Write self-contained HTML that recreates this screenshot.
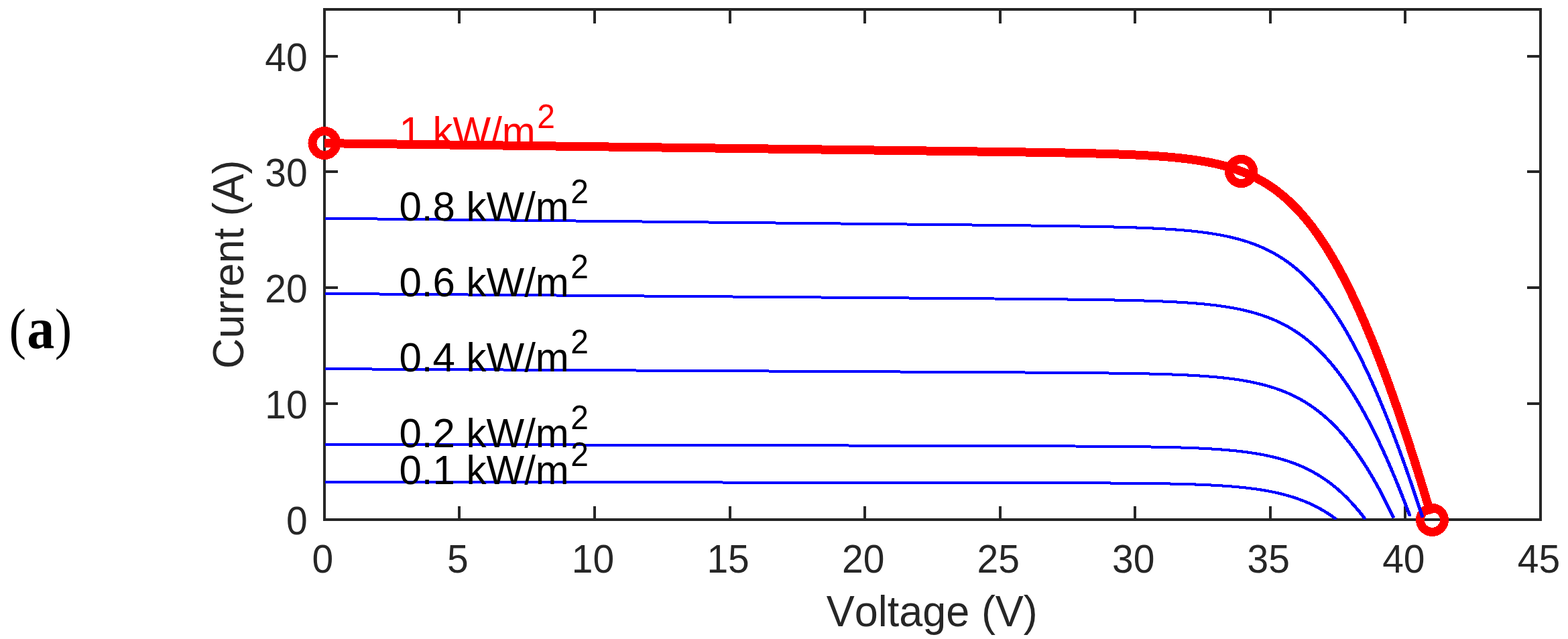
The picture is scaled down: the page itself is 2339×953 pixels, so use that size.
<!DOCTYPE html>
<html lang="en"><head><meta charset="utf-8"><title>I-V curves</title>
<style>html,body{margin:0;padding:0;background:#fff;}body{width:2339px;height:953px;overflow:hidden;}svg{display:block;}text{font-kerning:none;}.t{font-family:"Liberation Sans",sans-serif;fill:#262626;}.k{font-family:"Liberation Sans",sans-serif;fill:#000;}.s{font-family:"Liberation Serif","DejaVu Serif",serif;fill:#000;}</style></head><body>
<svg width="2339" height="953" viewBox="0 0 2339 953">
<rect x="0" y="0" width="2339" height="953" fill="#fff"/>
<defs><clipPath id="ax"><rect x="484" y="12" width="1816" height="763.5"/></clipPath><clipPath id="bx"><rect x="485" y="12" width="1815" height="763.5"/></clipPath></defs>
<g fill="#262626">
<rect x="482" y="12" width="1818" height="4"/>
<rect x="482" y="773" width="1818" height="4"/>
<rect x="482" y="12" width="4" height="765"/>
<rect x="2296" y="12" width="4" height="765"/>
<rect x="683" y="755" width="4" height="20"/>
<rect x="683" y="14" width="4" height="21"/>
<rect x="885" y="755" width="4" height="20"/>
<rect x="885" y="14" width="4" height="21"/>
<rect x="1087" y="755" width="4" height="20"/>
<rect x="1087" y="14" width="4" height="21"/>
<rect x="1288" y="755" width="4" height="20"/>
<rect x="1288" y="14" width="4" height="21"/>
<rect x="1490" y="755" width="4" height="20"/>
<rect x="1490" y="14" width="4" height="21"/>
<rect x="1691" y="755" width="4" height="20"/>
<rect x="1691" y="14" width="4" height="21"/>
<rect x="1893" y="755" width="4" height="20"/>
<rect x="1893" y="14" width="4" height="21"/>
<rect x="2094" y="755" width="4" height="20"/>
<rect x="2094" y="14" width="4" height="21"/>
<rect x="484" y="600" width="20" height="4"/>
<rect x="2278" y="600" width="20" height="4"/>
<rect x="484" y="427" width="20" height="4"/>
<rect x="2278" y="427" width="20" height="4"/>
<rect x="484" y="254" width="20" height="4"/>
<rect x="2278" y="254" width="20" height="4"/>
<rect x="484" y="82" width="20" height="4"/>
<rect x="2278" y="82" width="20" height="4"/>
</g>
<text class="k" style="fill:#f00" transform="translate(595.5 217.3) scale(1 1.03)" font-size="60">1 kW/m<tspan dx="2.5" dy="-25.534" font-size="48">2</tspan></text>
<g fill="none" shape-rendering="crispEdges" stroke-linejoin="round">
<path clip-path="url(#ax)" d="M484.00 213.64 L524.31 214.15 L564.62 214.66 L604.93 215.17 L645.24 215.68 L685.56 216.19 L725.87 216.70 L766.18 217.21 L806.49 217.72 L846.80 218.23 L887.11 218.74 L927.42 219.25 L967.73 219.76 L1008.04 220.27 L1048.36 220.77 L1088.67 221.28 L1128.98 221.79 L1169.29 222.30 L1209.60 222.81 L1249.91 223.32 L1290.22 223.83 L1330.53 224.35 L1370.84 224.86 L1411.16 225.38 L1451.47 225.91 L1491.78 226.46 L1532.09 227.04 L1542.17 227.20 L1544.69 227.24 L1547.22 227.28 L1549.75 227.32 L1552.28 227.36 L1554.81 227.40 L1557.33 227.44 L1559.86 227.48 L1562.39 227.52 L1564.92 227.57 L1567.45 227.61 L1569.97 227.65 L1572.50 227.70 L1575.03 227.74 L1577.56 227.79 L1580.08 227.83 L1582.61 227.88 L1585.14 227.92 L1587.67 227.97 L1590.20 228.02 L1592.72 228.07 L1595.25 228.12 L1597.78 228.17 L1600.31 228.22 L1602.84 228.27 L1605.36 228.32 L1607.89 228.37 L1610.42 228.43 L1612.95 228.48 L1615.47 228.54 L1618.00 228.59 L1620.53 228.65 L1623.06 228.71 L1625.59 228.77 L1628.11 228.83 L1630.64 228.89 L1633.17 228.95 L1635.70 229.02 L1638.23 229.08 L1640.75 229.15 L1643.28 229.22 L1645.81 229.29 L1648.34 229.36 L1650.87 229.44 L1653.39 229.51 L1655.92 229.59 L1658.45 229.67 L1660.98 229.75 L1663.50 229.83 L1666.03 229.92 L1668.56 230.00 L1671.09 230.09 L1673.62 230.18 L1676.14 230.28 L1678.67 230.37 L1681.20 230.47 L1683.73 230.57 L1686.26 230.68 L1688.78 230.79 L1691.31 230.90 L1693.84 231.01 L1696.37 231.13 L1698.89 231.25 L1701.42 231.38 L1703.95 231.51 L1706.48 231.64 L1709.01 231.77 L1711.53 231.92 L1714.06 232.06 L1716.59 232.21 L1719.12 232.37 L1721.65 232.52 L1724.17 232.69 L1726.70 232.86 L1729.23 233.04 L1731.76 233.22 L1734.28 233.41 L1736.81 233.60 L1739.34 233.80 L1741.87 234.01 L1744.40 234.22 L1746.92 234.45 L1749.45 234.67 L1751.98 234.91 L1754.51 235.16 L1757.04 235.41 L1759.56 235.68 L1762.09 235.95 L1764.62 236.23 L1767.15 236.52 L1769.68 236.83 L1772.20 237.14 L1774.73 237.46 L1777.26 237.80 L1779.79 238.15 L1782.31 238.51 L1784.84 238.88 L1787.37 239.27 L1789.90 239.67 L1792.43 240.09 L1794.95 240.52 L1797.48 240.97 L1800.01 241.43 L1802.54 241.91 L1805.07 242.40 L1807.59 242.92 L1810.12 243.45 L1812.65 244.00 L1815.18 244.58 L1817.70 245.17 L1820.23 245.78 L1822.76 246.42 L1825.29 247.08 L1827.82 247.76 L1830.34 248.47 L1832.87 249.20 L1835.40 249.96 L1837.93 250.75 L1840.46 251.56 L1842.98 252.40 L1845.51 253.28 L1848.04 254.18 L1850.57 255.11 L1853.09 256.08 L1855.62 257.08 L1858.15 258.12 L1860.68 259.19 L1863.21 260.29 L1865.73 261.44 L1868.26 262.62 L1870.79 263.85 L1873.32 265.11 L1875.85 266.42 L1878.37 267.77 L1880.90 269.17 L1883.43 270.61 L1885.96 272.10 L1888.48 273.63 L1891.01 275.22 L1893.54 276.86 L1896.07 278.55 L1898.60 280.29 L1901.12 282.08 L1903.65 283.93 L1906.18 285.84 L1908.71 287.80 L1911.24 289.83 L1913.76 291.91 L1916.29 294.06 L1918.82 296.27 L1921.35 298.54 L1923.88 300.88 L1926.40 303.28 L1928.93 305.75 L1931.46 308.29 L1933.99 310.90 L1936.51 313.57 L1939.04 316.32 L1941.57 319.14 L1944.10 322.04 L1946.63 325.01 L1949.15 328.05 L1951.68 331.17 L1954.21 334.37 L1956.74 337.64 L1959.27 341.00 L1961.79 344.43 L1964.32 347.94 L1966.85 351.53 L1969.38 355.20 L1971.90 358.96 L1974.43 362.80 L1976.96 366.71 L1979.49 370.72 L1982.02 374.80 L1984.54 378.97 L1987.07 383.22 L1989.60 387.56 L1992.13 391.98 L1994.66 396.48 L1997.18 401.07 L1999.71 405.75 L2002.24 410.51 L2004.77 415.35 L2007.29 420.28 L2009.82 425.29 L2012.35 430.39 L2014.88 435.57 L2017.41 440.84 L2019.93 446.18 L2022.46 451.62 L2024.99 457.13 L2027.52 462.73 L2030.05 468.41 L2032.57 474.17 L2035.10 480.02 L2037.63 485.94 L2040.16 491.95 L2042.69 498.03 L2045.21 504.20 L2047.74 510.44 L2050.27 516.76 L2052.80 523.16 L2055.32 529.64 L2057.85 536.19 L2060.38 542.82 L2062.91 549.53 L2065.44 556.31 L2067.96 563.16 L2070.49 570.09 L2073.02 577.08 L2075.55 584.15 L2078.08 591.30 L2080.60 598.51 L2083.13 605.79 L2085.66 613.14 L2088.19 620.56 L2090.71 628.04 L2093.24 635.59 L2095.77 643.21 L2098.30 650.89 L2100.83 658.64 L2103.35 666.45 L2105.88 674.32 L2108.41 682.26 L2110.94 690.26 L2113.47 698.31 L2115.99 706.43 L2118.52 714.61 L2121.05 722.84 L2123.58 731.13 L2126.10 739.48 L2128.63 747.88 L2131.16 756.34 L2133.69 764.86 L2134.13 766.36" stroke="#f00" stroke-width="13"/>
</g>
<g fill="none" stroke="#f00" stroke-width="13" shape-rendering="crispEdges">
<circle cx="484" cy="213.5" r="18"/>
<circle cx="1851.5" cy="255.5" r="18"/>
<circle cx="2136.5" cy="775.4" r="18"/>
</g>
<g fill="none" stroke="#00f" stroke-width="4" shape-rendering="crispEdges" stroke-linejoin="round" clip-path="url(#bx)">
<path d="M483.70 325.71 L524.01 326.12 L564.32 326.52 L604.63 326.93 L644.94 327.34 L685.26 327.75 L725.57 328.16 L765.88 328.56 L806.19 328.97 L846.50 329.38 L886.81 329.79 L927.12 330.20 L967.43 330.60 L1007.74 331.01 L1048.06 331.42 L1088.37 331.83 L1128.68 332.23 L1168.99 332.64 L1209.30 333.05 L1249.61 333.46 L1289.92 333.87 L1330.23 334.28 L1370.54 334.69 L1410.86 335.11 L1451.17 335.53 L1491.48 335.96 L1531.79 336.43 L1541.87 336.55 L1544.39 336.58 L1546.92 336.61 L1549.45 336.64 L1551.98 336.67 L1554.51 336.71 L1557.03 336.74 L1559.56 336.77 L1562.09 336.80 L1564.62 336.84 L1567.15 336.87 L1569.67 336.90 L1572.20 336.94 L1574.73 336.97 L1577.26 337.01 L1579.78 337.04 L1582.31 337.08 L1584.84 337.12 L1587.37 337.15 L1589.90 337.19 L1592.42 337.23 L1594.95 337.26 L1597.48 337.30 L1600.01 337.34 L1602.54 337.38 L1605.06 337.42 L1607.59 337.46 L1610.12 337.50 L1612.65 337.55 L1615.17 337.59 L1617.70 337.63 L1620.23 337.68 L1622.76 337.72 L1625.29 337.77 L1627.81 337.81 L1630.34 337.86 L1632.87 337.91 L1635.40 337.96 L1637.93 338.01 L1640.45 338.06 L1642.98 338.11 L1645.51 338.17 L1648.04 338.22 L1650.57 338.28 L1653.09 338.34 L1655.62 338.39 L1658.15 338.45 L1660.68 338.51 L1663.20 338.58 L1665.73 338.64 L1668.26 338.71 L1670.79 338.78 L1673.32 338.84 L1675.84 338.92 L1678.37 338.99 L1680.90 339.06 L1683.43 339.14 L1685.96 339.22 L1688.48 339.30 L1691.01 339.38 L1693.54 339.47 L1696.07 339.56 L1698.59 339.65 L1701.12 339.74 L1703.65 339.84 L1706.18 339.94 L1708.71 340.04 L1711.23 340.15 L1713.76 340.26 L1716.29 340.37 L1718.82 340.48 L1721.35 340.60 L1723.87 340.73 L1726.40 340.85 L1728.93 340.98 L1731.46 341.12 L1733.98 341.26 L1736.51 341.41 L1739.04 341.55 L1741.57 341.71 L1744.10 341.87 L1746.62 342.04 L1749.15 342.21 L1751.68 342.38 L1754.21 342.57 L1756.74 342.76 L1759.26 342.95 L1761.79 343.16 L1764.32 343.37 L1766.85 343.58 L1769.38 343.81 L1771.90 344.04 L1774.43 344.29 L1776.96 344.54 L1779.49 344.80 L1782.01 345.07 L1784.54 345.34 L1787.07 345.63 L1789.60 345.93 L1792.13 346.24 L1794.65 346.56 L1797.18 346.90 L1799.71 347.24 L1802.24 347.60 L1804.77 347.97 L1807.29 348.36 L1809.82 348.76 L1812.35 349.17 L1814.88 349.60 L1817.40 350.04 L1819.93 350.51 L1822.46 350.98 L1824.99 351.48 L1827.52 351.99 L1830.04 352.52 L1832.57 353.08 L1835.10 353.65 L1837.63 354.24 L1840.16 354.86 L1842.68 355.49 L1845.21 356.15 L1847.74 356.84 L1850.27 357.55 L1852.79 358.28 L1855.32 359.04 L1857.85 359.83 L1860.38 360.64 L1862.91 361.49 L1865.43 362.36 L1867.96 363.27 L1870.49 364.21 L1873.02 365.18 L1875.55 366.18 L1878.07 367.22 L1880.60 368.30 L1883.13 369.41 L1885.66 370.56 L1888.18 371.75 L1890.71 372.98 L1893.24 374.26 L1895.77 375.57 L1898.30 376.93 L1900.82 378.33 L1903.35 379.78 L1905.88 381.28 L1908.41 382.82 L1910.94 384.42 L1913.46 386.07 L1915.99 387.76 L1918.52 389.52 L1921.05 391.32 L1923.58 393.18 L1926.10 395.10 L1928.63 397.08 L1931.16 399.12 L1933.69 401.21 L1936.21 403.37 L1938.74 405.60 L1941.27 407.88 L1943.80 410.23 L1946.33 412.65 L1948.85 415.14 L1951.38 417.69 L1953.91 420.32 L1956.44 423.01 L1958.97 425.78 L1961.49 428.62 L1964.02 431.53 L1966.55 434.52 L1969.08 437.58 L1971.60 440.72 L1974.13 443.93 L1976.66 447.23 L1979.19 450.60 L1981.72 454.05 L1984.24 457.58 L1986.77 461.20 L1989.30 464.89 L1991.83 468.67 L1994.36 472.52 L1996.88 476.46 L1999.41 480.49 L2001.94 484.59 L2004.47 488.78 L2006.99 493.06 L2009.52 497.42 L2012.05 501.86 L2014.58 506.39 L2017.11 511.00 L2019.63 515.70 L2022.16 520.48 L2024.69 525.35 L2027.22 530.30 L2029.75 535.33 L2032.27 540.45 L2034.80 545.66 L2037.33 550.95 L2039.86 556.32 L2042.39 561.77 L2044.91 567.31 L2047.44 572.93 L2049.97 578.63 L2052.50 584.42 L2055.02 590.29 L2057.55 596.23 L2060.08 602.26 L2062.61 608.37 L2065.14 614.56 L2067.66 620.82 L2070.19 627.17 L2072.72 633.59 L2075.25 640.09 L2077.78 646.66 L2080.30 653.31 L2082.83 660.04 L2085.36 666.84 L2087.89 673.72 L2090.41 680.66 L2092.94 687.68 L2095.47 694.77 L2098.00 701.93 L2100.53 709.17 L2103.05 716.47 L2105.58 723.84 L2108.11 731.28 L2110.64 738.78 L2113.17 746.35 L2115.69 753.99 L2118.22 761.69 L2120.75 769.45 L2121.43 771.54"/>
<path d="M1575.73 336.97 L1578.26 337.01 L1580.78 337.04 L1583.31 337.08 L1585.84 337.12 L1588.37 337.15 L1590.90 337.19 L1593.42 337.23 L1595.95 337.26 L1598.48 337.30 L1601.01 337.34 L1603.54 337.38 L1606.06 337.42 L1608.59 337.46 L1611.12 337.50 L1613.65 337.55 L1616.17 337.59 L1618.70 337.63 L1621.23 337.68 L1623.76 337.72 L1626.29 337.77 L1628.81 337.81 L1631.34 337.86 L1633.87 337.91 L1636.40 337.96 L1638.93 338.01 L1641.45 338.06 L1643.98 338.11 L1646.51 338.17 L1649.04 338.22 L1651.57 338.28 L1654.09 338.34 L1656.62 338.39 L1659.15 338.45 L1661.68 338.51 L1664.20 338.58 L1666.73 338.64 L1669.26 338.71 L1671.79 338.78 L1674.32 338.84 L1676.84 338.92 L1679.37 338.99 L1681.90 339.06 L1684.43 339.14 L1686.96 339.22 L1689.48 339.30 L1692.01 339.38 L1694.54 339.47 L1697.07 339.56 L1699.59 339.65 L1702.12 339.74 L1704.65 339.84 L1707.18 339.94 L1709.71 340.04 L1712.23 340.15 L1714.76 340.26 L1717.29 340.37 L1719.82 340.48 L1722.35 340.60 L1724.87 340.73 L1727.40 340.85 L1729.93 340.98 L1732.46 341.12 L1734.98 341.26 L1737.51 341.41 L1740.04 341.55 L1742.57 341.71 L1745.10 341.87 L1747.62 342.04 L1750.15 342.21 L1752.68 342.38 L1755.21 342.57 L1757.74 342.76 L1760.26 342.95 L1762.79 343.16 L1765.32 343.37 L1767.85 343.58 L1770.38 343.81 L1772.90 344.04 L1775.43 344.29 L1777.96 344.54 L1780.49 344.80 L1783.01 345.07 L1785.54 345.34 L1788.07 345.63 L1790.60 345.93 L1793.13 346.24 L1795.65 346.56 L1798.18 346.90 L1800.71 347.24 L1803.24 347.60 L1805.77 347.97 L1808.29 348.36 L1810.82 348.76 L1813.35 349.17 L1815.88 349.60 L1818.40 350.04 L1820.93 350.51 L1823.46 350.98 L1825.99 351.48 L1828.52 351.99 L1831.04 352.52 L1833.57 353.08 L1836.10 353.65 L1838.63 354.24 L1841.16 354.86 L1843.68 355.49 L1846.21 356.15 L1848.74 356.84 L1851.27 357.55 L1853.79 358.28 L1856.32 359.04 L1858.85 359.83 L1861.38 360.64 L1863.91 361.49 L1866.43 362.36 L1868.96 363.27 L1871.49 364.21 L1874.02 365.18 L1876.55 366.18 L1879.07 367.22 L1881.60 368.30 L1884.13 369.41 L1886.66 370.56 L1889.18 371.75 L1891.71 372.98 L1894.24 374.26 L1896.77 375.57 L1899.30 376.93 L1901.82 378.33 L1904.35 379.78 L1906.88 381.28 L1909.41 382.82 L1911.94 384.42 L1914.46 386.07 L1916.99 387.76 L1919.52 389.52 L1922.05 391.32 L1924.58 393.18 L1927.10 395.10 L1929.63 397.08 L1932.16 399.12 L1934.69 401.21 L1937.21 403.37 L1939.74 405.60 L1942.27 407.88 L1944.80 410.23 L1947.33 412.65 L1949.85 415.14 L1952.38 417.69 L1954.91 420.32 L1957.44 423.01 L1959.97 425.78 L1962.49 428.62 L1965.02 431.53 L1967.55 434.52 L1970.08 437.58 L1972.60 440.72 L1975.13 443.93 L1977.66 447.23 L1980.19 450.60 L1982.72 454.05 L1985.24 457.58 L1987.77 461.20 L1990.30 464.89 L1992.83 468.67 L1995.36 472.52 L1997.88 476.46 L2000.41 480.49 L2002.94 484.59 L2005.47 488.78 L2007.99 493.06 L2010.52 497.42 L2013.05 501.86 L2015.58 506.39 L2018.11 511.00 L2020.63 515.70 L2023.16 520.48 L2025.69 525.35 L2028.22 530.30 L2030.75 535.33 L2033.27 540.45 L2035.80 545.66 L2038.33 550.95 L2040.86 556.32 L2043.39 561.77 L2045.91 567.31 L2048.44 572.93 L2050.97 578.63 L2053.50 584.42 L2056.02 590.29 L2058.55 596.23 L2061.08 602.26 L2063.61 608.37 L2066.14 614.56 L2068.66 620.82 L2071.19 627.17 L2073.72 633.59 L2076.25 640.09 L2078.78 646.66 L2081.30 653.31 L2083.83 660.04 L2086.36 666.84 L2088.89 673.72 L2091.41 680.66 L2093.94 687.68 L2096.47 694.77 L2099.00 701.93 L2101.53 709.17 L2104.05 716.47 L2106.58 723.84 L2109.11 731.28 L2111.64 738.78 L2114.17 746.35 L2116.69 753.99 L2119.22 761.69 L2121.75 769.45 L2122.43 771.54"/>
<path d="M483.70 437.88 L524.01 438.18 L564.32 438.49 L604.63 438.80 L644.94 439.10 L685.26 439.41 L725.57 439.71 L765.88 440.02 L806.19 440.33 L846.50 440.63 L886.81 440.94 L927.12 441.24 L967.43 441.55 L1007.74 441.86 L1048.06 442.16 L1088.37 442.47 L1128.68 442.78 L1168.99 443.08 L1209.30 443.39 L1249.61 443.69 L1289.92 444.00 L1330.23 444.31 L1370.54 444.62 L1410.86 444.93 L1451.17 445.25 L1491.48 445.57 L1531.79 445.92 L1541.87 446.01 L1544.39 446.03 L1546.92 446.06 L1549.45 446.08 L1551.98 446.10 L1554.51 446.13 L1557.03 446.15 L1559.56 446.18 L1562.09 446.20 L1564.62 446.22 L1567.15 446.25 L1569.67 446.27 L1572.20 446.30 L1574.73 446.33 L1577.26 446.35 L1579.78 446.38 L1582.31 446.40 L1584.84 446.43 L1587.37 446.46 L1589.90 446.49 L1592.42 446.51 L1594.95 446.54 L1597.48 446.57 L1600.01 446.60 L1602.54 446.63 L1605.06 446.66 L1607.59 446.69 L1610.12 446.72 L1612.65 446.75 L1615.17 446.78 L1617.70 446.82 L1620.23 446.85 L1622.76 446.88 L1625.29 446.92 L1627.81 446.95 L1630.34 446.99 L1632.87 447.02 L1635.40 447.06 L1637.93 447.10 L1640.45 447.13 L1642.98 447.17 L1645.51 447.21 L1648.04 447.25 L1650.57 447.29 L1653.09 447.34 L1655.62 447.38 L1658.15 447.42 L1660.68 447.47 L1663.20 447.52 L1665.73 447.56 L1668.26 447.61 L1670.79 447.66 L1673.32 447.71 L1675.84 447.77 L1678.37 447.82 L1680.90 447.87 L1683.43 447.93 L1685.96 447.99 L1688.48 448.05 L1691.01 448.11 L1693.54 448.17 L1696.07 448.24 L1698.59 448.31 L1701.12 448.38 L1703.65 448.45 L1706.18 448.52 L1708.71 448.60 L1711.23 448.67 L1713.76 448.75 L1716.29 448.84 L1718.82 448.92 L1721.35 449.01 L1723.87 449.10 L1726.40 449.19 L1728.93 449.29 L1731.46 449.39 L1733.98 449.49 L1736.51 449.60 L1739.04 449.71 L1741.57 449.83 L1744.10 449.94 L1746.62 450.07 L1749.15 450.19 L1751.68 450.32 L1754.21 450.46 L1756.74 450.60 L1759.26 450.74 L1761.79 450.89 L1764.32 451.05 L1766.85 451.21 L1769.38 451.37 L1771.90 451.55 L1774.43 451.73 L1776.96 451.91 L1779.49 452.10 L1782.01 452.30 L1784.54 452.51 L1787.07 452.72 L1789.60 452.94 L1792.13 453.17 L1794.65 453.41 L1797.18 453.66 L1799.71 453.91 L1802.24 454.18 L1804.77 454.45 L1807.29 454.74 L1809.82 455.04 L1812.35 455.34 L1814.88 455.66 L1817.40 455.99 L1819.93 456.33 L1822.46 456.69 L1824.99 457.06 L1827.52 457.44 L1830.04 457.84 L1832.57 458.25 L1835.10 458.68 L1837.63 459.12 L1840.16 459.58 L1842.68 460.06 L1845.21 460.55 L1847.74 461.06 L1850.27 461.60 L1852.79 462.15 L1855.32 462.72 L1857.85 463.31 L1860.38 463.93 L1862.91 464.56 L1865.43 465.22 L1867.96 465.91 L1870.49 466.62 L1873.02 467.36 L1875.55 468.12 L1878.07 468.91 L1880.60 469.73 L1883.13 470.57 L1885.66 471.45 L1888.18 472.36 L1890.71 473.30 L1893.24 474.28 L1895.77 475.29 L1898.30 476.33 L1900.82 477.41 L1903.35 478.53 L1905.88 479.69 L1908.41 480.88 L1910.94 482.12 L1913.46 483.40 L1915.99 484.72 L1918.52 486.08 L1921.05 487.50 L1923.58 488.95 L1926.10 490.46 L1928.63 492.01 L1931.16 493.62 L1933.69 495.28 L1936.21 496.98 L1938.74 498.75 L1941.27 500.56 L1943.80 502.44 L1946.33 504.37 L1948.85 506.36 L1951.38 508.41 L1953.91 510.52 L1956.44 512.69 L1958.97 514.93 L1961.49 517.23 L1964.02 519.60 L1966.55 522.03 L1969.08 524.53 L1971.60 527.10 L1974.13 529.74 L1976.66 532.45 L1979.19 535.24 L1981.72 538.09 L1984.24 541.02 L1986.77 544.03 L1989.30 547.11 L1991.83 550.27 L1994.36 553.50 L1996.88 556.82 L1999.41 560.21 L2001.94 563.68 L2004.47 567.23 L2006.99 570.87 L2009.52 574.58 L2012.05 578.38 L2014.58 582.26 L2017.11 586.22 L2019.63 590.26 L2022.16 594.39 L2024.69 598.61 L2027.22 602.90 L2029.75 607.28 L2032.27 611.75 L2034.80 616.30 L2037.33 620.93 L2039.86 625.65 L2042.39 630.46 L2044.91 635.35 L2047.44 640.32 L2049.97 645.38 L2052.50 650.52 L2055.02 655.75 L2057.55 661.06 L2060.08 666.46 L2062.61 671.94 L2065.14 677.50 L2067.66 683.14 L2070.19 688.87 L2072.72 694.67 L2075.25 700.56 L2077.78 706.53 L2080.30 712.58 L2082.83 718.71 L2085.36 724.92 L2087.89 731.21 L2090.41 737.58 L2092.94 744.02 L2095.47 750.54 L2098.00 757.14 L2100.53 763.81 L2102.78 769.82"/>
<path d="M1575.73 446.33 L1578.26 446.35 L1580.78 446.38 L1583.31 446.40 L1585.84 446.43 L1588.37 446.46 L1590.90 446.49 L1593.42 446.51 L1595.95 446.54 L1598.48 446.57 L1601.01 446.60 L1603.54 446.63 L1606.06 446.66 L1608.59 446.69 L1611.12 446.72 L1613.65 446.75 L1616.17 446.78 L1618.70 446.82 L1621.23 446.85 L1623.76 446.88 L1626.29 446.92 L1628.81 446.95 L1631.34 446.99 L1633.87 447.02 L1636.40 447.06 L1638.93 447.10 L1641.45 447.13 L1643.98 447.17 L1646.51 447.21 L1649.04 447.25 L1651.57 447.29 L1654.09 447.34 L1656.62 447.38 L1659.15 447.42 L1661.68 447.47 L1664.20 447.52 L1666.73 447.56 L1669.26 447.61 L1671.79 447.66 L1674.32 447.71 L1676.84 447.77 L1679.37 447.82 L1681.90 447.87 L1684.43 447.93 L1686.96 447.99 L1689.48 448.05 L1692.01 448.11 L1694.54 448.17 L1697.07 448.24 L1699.59 448.31 L1702.12 448.38 L1704.65 448.45 L1707.18 448.52 L1709.71 448.60 L1712.23 448.67 L1714.76 448.75 L1717.29 448.84 L1719.82 448.92 L1722.35 449.01 L1724.87 449.10 L1727.40 449.19 L1729.93 449.29 L1732.46 449.39 L1734.98 449.49 L1737.51 449.60 L1740.04 449.71 L1742.57 449.83 L1745.10 449.94 L1747.62 450.07 L1750.15 450.19 L1752.68 450.32 L1755.21 450.46 L1757.74 450.60 L1760.26 450.74 L1762.79 450.89 L1765.32 451.05 L1767.85 451.21 L1770.38 451.37 L1772.90 451.55 L1775.43 451.73 L1777.96 451.91 L1780.49 452.10 L1783.01 452.30 L1785.54 452.51 L1788.07 452.72 L1790.60 452.94 L1793.13 453.17 L1795.65 453.41 L1798.18 453.66 L1800.71 453.91 L1803.24 454.18 L1805.77 454.45 L1808.29 454.74 L1810.82 455.04 L1813.35 455.34 L1815.88 455.66 L1818.40 455.99 L1820.93 456.33 L1823.46 456.69 L1825.99 457.06 L1828.52 457.44 L1831.04 457.84 L1833.57 458.25 L1836.10 458.68 L1838.63 459.12 L1841.16 459.58 L1843.68 460.06 L1846.21 460.55 L1848.74 461.06 L1851.27 461.60 L1853.79 462.15 L1856.32 462.72 L1858.85 463.31 L1861.38 463.93 L1863.91 464.56 L1866.43 465.22 L1868.96 465.91 L1871.49 466.62 L1874.02 467.36 L1876.55 468.12 L1879.07 468.91 L1881.60 469.73 L1884.13 470.57 L1886.66 471.45 L1889.18 472.36 L1891.71 473.30 L1894.24 474.28 L1896.77 475.29 L1899.30 476.33 L1901.82 477.41 L1904.35 478.53 L1906.88 479.69 L1909.41 480.88 L1911.94 482.12 L1914.46 483.40 L1916.99 484.72 L1919.52 486.08 L1922.05 487.50 L1924.58 488.95 L1927.10 490.46 L1929.63 492.01 L1932.16 493.62 L1934.69 495.28 L1937.21 496.98 L1939.74 498.75 L1942.27 500.56 L1944.80 502.44 L1947.33 504.37 L1949.85 506.36 L1952.38 508.41 L1954.91 510.52 L1957.44 512.69 L1959.97 514.93 L1962.49 517.23 L1965.02 519.60 L1967.55 522.03 L1970.08 524.53 L1972.60 527.10 L1975.13 529.74 L1977.66 532.45 L1980.19 535.24 L1982.72 538.09 L1985.24 541.02 L1987.77 544.03 L1990.30 547.11 L1992.83 550.27 L1995.36 553.50 L1997.88 556.82 L2000.41 560.21 L2002.94 563.68 L2005.47 567.23 L2007.99 570.87 L2010.52 574.58 L2013.05 578.38 L2015.58 582.26 L2018.11 586.22 L2020.63 590.26 L2023.16 594.39 L2025.69 598.61 L2028.22 602.90 L2030.75 607.28 L2033.27 611.75 L2035.80 616.30 L2038.33 620.93 L2040.86 625.65 L2043.39 630.46 L2045.91 635.35 L2048.44 640.32 L2050.97 645.38 L2053.50 650.52 L2056.02 655.75 L2058.55 661.06 L2061.08 666.46 L2063.61 671.94 L2066.14 677.50 L2068.66 683.14 L2071.19 688.87 L2073.72 694.67 L2076.25 700.56 L2078.78 706.53 L2081.30 712.58 L2083.83 718.71 L2086.36 724.92 L2088.89 731.21 L2091.41 737.58 L2093.94 744.02 L2096.47 750.54 L2099.00 757.14 L2101.53 763.81 L2103.78 769.82"/>
<path d="M483.70 550.15 L524.01 550.35 L564.32 550.56 L604.63 550.76 L644.94 550.97 L685.26 551.17 L725.57 551.38 L765.88 551.58 L806.19 551.78 L846.50 551.99 L886.81 552.19 L927.12 552.40 L967.43 552.60 L1007.74 552.80 L1048.06 553.01 L1088.37 553.21 L1128.68 553.42 L1168.99 553.62 L1209.30 553.82 L1249.61 554.03 L1289.92 554.23 L1330.23 554.44 L1370.54 554.65 L1410.86 554.85 L1451.17 555.07 L1491.48 555.28 L1531.79 555.52 L1541.87 555.58 L1544.39 555.59 L1546.92 555.61 L1549.45 555.63 L1551.98 555.64 L1554.51 555.66 L1557.03 555.68 L1559.56 555.69 L1562.09 555.71 L1564.62 555.73 L1567.15 555.74 L1569.67 555.76 L1572.20 555.78 L1574.73 555.79 L1577.26 555.81 L1579.78 555.83 L1582.31 555.85 L1584.84 555.87 L1587.37 555.89 L1589.90 555.90 L1592.42 555.92 L1594.95 555.94 L1597.48 555.96 L1600.01 555.98 L1602.54 556.00 L1605.06 556.02 L1607.59 556.04 L1610.12 556.07 L1612.65 556.09 L1615.17 556.11 L1617.70 556.13 L1620.23 556.15 L1622.76 556.18 L1625.29 556.20 L1627.81 556.23 L1630.34 556.25 L1632.87 556.28 L1635.40 556.30 L1637.93 556.33 L1640.45 556.35 L1642.98 556.38 L1645.51 556.41 L1648.04 556.44 L1650.57 556.47 L1653.09 556.50 L1655.62 556.53 L1658.15 556.56 L1660.68 556.59 L1663.20 556.62 L1665.73 556.65 L1668.26 556.69 L1670.79 556.72 L1673.32 556.76 L1675.84 556.80 L1678.37 556.84 L1680.90 556.88 L1683.43 556.92 L1685.96 556.96 L1688.48 557.00 L1691.01 557.04 L1693.54 557.09 L1696.07 557.13 L1698.59 557.18 L1701.12 557.23 L1703.65 557.28 L1706.18 557.33 L1708.71 557.39 L1711.23 557.44 L1713.76 557.50 L1716.29 557.56 L1718.82 557.62 L1721.35 557.69 L1723.87 557.75 L1726.40 557.82 L1728.93 557.89 L1731.46 557.96 L1733.98 558.03 L1736.51 558.11 L1739.04 558.19 L1741.57 558.27 L1744.10 558.36 L1746.62 558.45 L1749.15 558.54 L1751.68 558.63 L1754.21 558.73 L1756.74 558.83 L1759.26 558.94 L1761.79 559.05 L1764.32 559.16 L1766.85 559.27 L1769.38 559.40 L1771.90 559.52 L1774.43 559.65 L1776.96 559.79 L1779.49 559.93 L1782.01 560.07 L1784.54 560.22 L1787.07 560.38 L1789.60 560.54 L1792.13 560.71 L1794.65 560.88 L1797.18 561.06 L1799.71 561.25 L1802.24 561.44 L1804.77 561.65 L1807.29 561.85 L1809.82 562.07 L1812.35 562.30 L1814.88 562.53 L1817.40 562.77 L1819.93 563.03 L1822.46 563.29 L1824.99 563.56 L1827.52 563.84 L1830.04 564.14 L1832.57 564.44 L1835.10 564.76 L1837.63 565.08 L1840.16 565.42 L1842.68 565.78 L1845.21 566.14 L1847.74 566.52 L1850.27 566.92 L1852.79 567.33 L1855.32 567.75 L1857.85 568.20 L1860.38 568.65 L1862.91 569.13 L1865.43 569.62 L1867.96 570.13 L1870.49 570.67 L1873.02 571.22 L1875.55 571.79 L1878.07 572.38 L1880.60 573.00 L1883.13 573.63 L1885.66 574.30 L1888.18 574.98 L1890.71 575.69 L1893.24 576.43 L1895.77 577.19 L1898.30 577.99 L1900.82 578.81 L1903.35 579.66 L1905.88 580.54 L1908.41 581.45 L1910.94 582.40 L1913.46 583.37 L1915.99 584.39 L1918.52 585.44 L1921.05 586.52 L1923.58 587.65 L1926.10 588.81 L1928.63 590.01 L1931.16 591.25 L1933.69 592.54 L1936.21 593.87 L1938.74 595.24 L1941.27 596.66 L1943.80 598.13 L1946.33 599.64 L1948.85 601.21 L1951.38 602.82 L1953.91 604.49 L1956.44 606.21 L1958.97 607.98 L1961.49 609.81 L1964.02 611.69 L1966.55 613.64 L1969.08 615.64 L1971.60 617.70 L1974.13 619.83 L1976.66 622.01 L1979.19 624.26 L1981.72 626.58 L1984.24 628.96 L1986.77 631.41 L1989.30 633.93 L1991.83 636.51 L1994.36 639.17 L1996.88 641.90 L1999.41 644.70 L2001.94 647.57 L2004.47 650.52 L2006.99 653.54 L2009.52 656.64 L2012.05 659.82 L2014.58 663.08 L2017.11 666.41 L2019.63 669.82 L2022.16 673.31 L2024.69 676.89 L2027.22 680.54 L2029.75 684.28 L2032.27 688.09 L2034.80 691.99 L2037.33 695.98 L2039.86 700.05 L2042.39 704.20 L2044.91 708.43 L2047.44 712.75 L2049.97 717.15 L2052.50 721.64 L2055.02 726.22 L2057.55 730.87 L2060.08 735.62 L2062.61 740.44 L2065.14 745.36 L2067.66 750.35 L2070.19 755.44 L2072.72 760.60 L2075.25 765.85 L2077.78 771.19 L2078.35 772.41"/>
<path d="M1575.73 555.79 L1578.26 555.81 L1580.78 555.83 L1583.31 555.85 L1585.84 555.87 L1588.37 555.89 L1590.90 555.90 L1593.42 555.92 L1595.95 555.94 L1598.48 555.96 L1601.01 555.98 L1603.54 556.00 L1606.06 556.02 L1608.59 556.04 L1611.12 556.07 L1613.65 556.09 L1616.17 556.11 L1618.70 556.13 L1621.23 556.15 L1623.76 556.18 L1626.29 556.20 L1628.81 556.23 L1631.34 556.25 L1633.87 556.28 L1636.40 556.30 L1638.93 556.33 L1641.45 556.35 L1643.98 556.38 L1646.51 556.41 L1649.04 556.44 L1651.57 556.47 L1654.09 556.50 L1656.62 556.53 L1659.15 556.56 L1661.68 556.59 L1664.20 556.62 L1666.73 556.65 L1669.26 556.69 L1671.79 556.72 L1674.32 556.76 L1676.84 556.80 L1679.37 556.84 L1681.90 556.88 L1684.43 556.92 L1686.96 556.96 L1689.48 557.00 L1692.01 557.04 L1694.54 557.09 L1697.07 557.13 L1699.59 557.18 L1702.12 557.23 L1704.65 557.28 L1707.18 557.33 L1709.71 557.39 L1712.23 557.44 L1714.76 557.50 L1717.29 557.56 L1719.82 557.62 L1722.35 557.69 L1724.87 557.75 L1727.40 557.82 L1729.93 557.89 L1732.46 557.96 L1734.98 558.03 L1737.51 558.11 L1740.04 558.19 L1742.57 558.27 L1745.10 558.36 L1747.62 558.45 L1750.15 558.54 L1752.68 558.63 L1755.21 558.73 L1757.74 558.83 L1760.26 558.94 L1762.79 559.05 L1765.32 559.16 L1767.85 559.27 L1770.38 559.40 L1772.90 559.52 L1775.43 559.65 L1777.96 559.79 L1780.49 559.93 L1783.01 560.07 L1785.54 560.22 L1788.07 560.38 L1790.60 560.54 L1793.13 560.71 L1795.65 560.88 L1798.18 561.06 L1800.71 561.25 L1803.24 561.44 L1805.77 561.65 L1808.29 561.85 L1810.82 562.07 L1813.35 562.30 L1815.88 562.53 L1818.40 562.77 L1820.93 563.03 L1823.46 563.29 L1825.99 563.56 L1828.52 563.84 L1831.04 564.14 L1833.57 564.44 L1836.10 564.76 L1838.63 565.08 L1841.16 565.42 L1843.68 565.78 L1846.21 566.14 L1848.74 566.52 L1851.27 566.92 L1853.79 567.33 L1856.32 567.75 L1858.85 568.20 L1861.38 568.65 L1863.91 569.13 L1866.43 569.62 L1868.96 570.13 L1871.49 570.67 L1874.02 571.22 L1876.55 571.79 L1879.07 572.38 L1881.60 573.00 L1884.13 573.63 L1886.66 574.30 L1889.18 574.98 L1891.71 575.69 L1894.24 576.43 L1896.77 577.19 L1899.30 577.99 L1901.82 578.81 L1904.35 579.66 L1906.88 580.54 L1909.41 581.45 L1911.94 582.40 L1914.46 583.37 L1916.99 584.39 L1919.52 585.44 L1922.05 586.52 L1924.58 587.65 L1927.10 588.81 L1929.63 590.01 L1932.16 591.25 L1934.69 592.54 L1937.21 593.87 L1939.74 595.24 L1942.27 596.66 L1944.80 598.13 L1947.33 599.64 L1949.85 601.21 L1952.38 602.82 L1954.91 604.49 L1957.44 606.21 L1959.97 607.98 L1962.49 609.81 L1965.02 611.69 L1967.55 613.64 L1970.08 615.64 L1972.60 617.70 L1975.13 619.83 L1977.66 622.01 L1980.19 624.26 L1982.72 626.58 L1985.24 628.96 L1987.77 631.41 L1990.30 633.93 L1992.83 636.51 L1995.36 639.17 L1997.88 641.90 L2000.41 644.70 L2002.94 647.57 L2005.47 650.52 L2007.99 653.54 L2010.52 656.64 L2013.05 659.82 L2015.58 663.08 L2018.11 666.41 L2020.63 669.82 L2023.16 673.31 L2025.69 676.89 L2028.22 680.54 L2030.75 684.28 L2033.27 688.09 L2035.80 691.99 L2038.33 695.98 L2040.86 700.05 L2043.39 704.20 L2045.91 708.43 L2048.44 712.75 L2050.97 717.15 L2053.50 721.64 L2056.02 726.22 L2058.55 730.87 L2061.08 735.62 L2063.61 740.44 L2066.14 745.36 L2068.66 750.35 L2071.19 755.44 L2073.72 760.60 L2076.25 765.85 L2078.78 771.19 L2079.35 772.41"/>
<path d="M483.70 662.52 L524.01 662.63 L564.32 662.73 L604.63 662.83 L644.94 662.93 L685.26 663.03 L725.57 663.14 L765.88 663.24 L806.19 663.34 L846.50 663.44 L886.81 663.55 L927.12 663.65 L967.43 663.75 L1007.74 663.85 L1048.06 663.95 L1088.37 664.06 L1128.68 664.16 L1168.99 664.26 L1209.30 664.36 L1249.61 664.46 L1289.92 664.57 L1330.23 664.67 L1370.54 664.77 L1410.86 664.88 L1451.17 664.99 L1491.48 665.10 L1531.79 665.22 L1541.87 665.26 L1544.39 665.26 L1546.92 665.27 L1549.45 665.28 L1551.98 665.29 L1554.51 665.30 L1557.03 665.31 L1559.56 665.32 L1562.09 665.33 L1564.62 665.34 L1567.15 665.35 L1569.67 665.36 L1572.20 665.37 L1574.73 665.38 L1577.26 665.39 L1579.78 665.40 L1582.31 665.41 L1584.84 665.42 L1587.37 665.43 L1589.90 665.44 L1592.42 665.45 L1594.95 665.46 L1597.48 665.47 L1600.01 665.48 L1602.54 665.50 L1605.06 665.51 L1607.59 665.52 L1610.12 665.53 L1612.65 665.54 L1615.17 665.56 L1617.70 665.57 L1620.23 665.59 L1622.76 665.60 L1625.29 665.61 L1627.81 665.63 L1630.34 665.64 L1632.87 665.66 L1635.40 665.67 L1637.93 665.69 L1640.45 665.71 L1642.98 665.72 L1645.51 665.74 L1648.04 665.76 L1650.57 665.78 L1653.09 665.80 L1655.62 665.81 L1658.15 665.83 L1660.68 665.85 L1663.20 665.88 L1665.73 665.90 L1668.26 665.92 L1670.79 665.94 L1673.32 665.97 L1675.84 665.99 L1678.37 666.01 L1680.90 666.04 L1683.43 666.07 L1685.96 666.09 L1688.48 666.12 L1691.01 666.15 L1693.54 666.18 L1696.07 666.21 L1698.59 666.24 L1701.12 666.28 L1703.65 666.31 L1706.18 666.35 L1708.71 666.38 L1711.23 666.42 L1713.76 666.46 L1716.29 666.50 L1718.82 666.54 L1721.35 666.59 L1723.87 666.63 L1726.40 666.68 L1728.93 666.72 L1731.46 666.77 L1733.98 666.83 L1736.51 666.88 L1739.04 666.93 L1741.57 666.99 L1744.10 667.05 L1746.62 667.11 L1749.15 667.18 L1751.68 667.24 L1754.21 667.31 L1756.74 667.38 L1759.26 667.46 L1761.79 667.53 L1764.32 667.61 L1766.85 667.70 L1769.38 667.78 L1771.90 667.87 L1774.43 667.96 L1776.96 668.06 L1779.49 668.16 L1782.01 668.26 L1784.54 668.37 L1787.07 668.48 L1789.60 668.60 L1792.13 668.72 L1794.65 668.84 L1797.18 668.97 L1799.71 669.11 L1802.24 669.25 L1804.77 669.39 L1807.29 669.54 L1809.82 669.70 L1812.35 669.86 L1814.88 670.03 L1817.40 670.21 L1819.93 670.39 L1822.46 670.58 L1824.99 670.78 L1827.52 670.99 L1830.04 671.20 L1832.57 671.42 L1835.10 671.65 L1837.63 671.89 L1840.16 672.14 L1842.68 672.40 L1845.21 672.67 L1847.74 672.94 L1850.27 673.23 L1852.79 673.54 L1855.32 673.85 L1857.85 674.17 L1860.38 674.51 L1862.91 674.86 L1865.43 675.23 L1867.96 675.60 L1870.49 676.00 L1873.02 676.40 L1875.55 676.83 L1878.07 677.27 L1880.60 677.72 L1883.13 678.20 L1885.66 678.69 L1888.18 679.20 L1890.71 679.73 L1893.24 680.28 L1895.77 680.86 L1898.30 681.45 L1900.82 682.06 L1903.35 682.70 L1905.88 683.36 L1908.41 684.05 L1910.94 684.76 L1913.46 685.50 L1915.99 686.27 L1918.52 687.06 L1921.05 687.89 L1923.58 688.74 L1926.10 689.62 L1928.63 690.54 L1931.16 691.49 L1933.69 692.47 L1936.21 693.49 L1938.74 694.54 L1941.27 695.63 L1943.80 696.76 L1946.33 697.93 L1948.85 699.14 L1951.38 700.39 L1953.91 701.68 L1956.44 703.02 L1958.97 704.40 L1961.49 705.83 L1964.02 707.30 L1966.55 708.83 L1969.08 710.40 L1971.60 712.02 L1974.13 713.70 L1976.66 715.43 L1979.19 717.21 L1981.72 719.05 L1984.24 720.95 L1986.77 722.91 L1989.30 724.92 L1991.83 727.00 L1994.36 729.13 L1996.88 731.34 L1999.41 733.60 L2001.94 735.93 L2004.47 738.33 L2006.99 740.79 L2009.52 743.32 L2012.05 745.93 L2014.58 748.60 L2017.11 751.35 L2019.63 754.16 L2022.16 757.06 L2024.69 760.02 L2027.22 763.07 L2029.75 766.18 L2032.27 769.38 L2034.80 772.65 L2035.93 774.14"/>
<path d="M1575.73 665.38 L1578.26 665.39 L1580.78 665.40 L1583.31 665.41 L1585.84 665.42 L1588.37 665.43 L1590.90 665.44 L1593.42 665.45 L1595.95 665.46 L1598.48 665.47 L1601.01 665.48 L1603.54 665.50 L1606.06 665.51 L1608.59 665.52 L1611.12 665.53 L1613.65 665.54 L1616.17 665.56 L1618.70 665.57 L1621.23 665.59 L1623.76 665.60 L1626.29 665.61 L1628.81 665.63 L1631.34 665.64 L1633.87 665.66 L1636.40 665.67 L1638.93 665.69 L1641.45 665.71 L1643.98 665.72 L1646.51 665.74 L1649.04 665.76 L1651.57 665.78 L1654.09 665.80 L1656.62 665.81 L1659.15 665.83 L1661.68 665.85 L1664.20 665.88 L1666.73 665.90 L1669.26 665.92 L1671.79 665.94 L1674.32 665.97 L1676.84 665.99 L1679.37 666.01 L1681.90 666.04 L1684.43 666.07 L1686.96 666.09 L1689.48 666.12 L1692.01 666.15 L1694.54 666.18 L1697.07 666.21 L1699.59 666.24 L1702.12 666.28 L1704.65 666.31 L1707.18 666.35 L1709.71 666.38 L1712.23 666.42 L1714.76 666.46 L1717.29 666.50 L1719.82 666.54 L1722.35 666.59 L1724.87 666.63 L1727.40 666.68 L1729.93 666.72 L1732.46 666.77 L1734.98 666.83 L1737.51 666.88 L1740.04 666.93 L1742.57 666.99 L1745.10 667.05 L1747.62 667.11 L1750.15 667.18 L1752.68 667.24 L1755.21 667.31 L1757.74 667.38 L1760.26 667.46 L1762.79 667.53 L1765.32 667.61 L1767.85 667.70 L1770.38 667.78 L1772.90 667.87 L1775.43 667.96 L1777.96 668.06 L1780.49 668.16 L1783.01 668.26 L1785.54 668.37 L1788.07 668.48 L1790.60 668.60 L1793.13 668.72 L1795.65 668.84 L1798.18 668.97 L1800.71 669.11 L1803.24 669.25 L1805.77 669.39 L1808.29 669.54 L1810.82 669.70 L1813.35 669.86 L1815.88 670.03 L1818.40 670.21 L1820.93 670.39 L1823.46 670.58 L1825.99 670.78 L1828.52 670.99 L1831.04 671.20 L1833.57 671.42 L1836.10 671.65 L1838.63 671.89 L1841.16 672.14 L1843.68 672.40 L1846.21 672.67 L1848.74 672.94 L1851.27 673.23 L1853.79 673.54 L1856.32 673.85 L1858.85 674.17 L1861.38 674.51 L1863.91 674.86 L1866.43 675.23 L1868.96 675.60 L1871.49 676.00 L1874.02 676.40 L1876.55 676.83 L1879.07 677.27 L1881.60 677.72 L1884.13 678.20 L1886.66 678.69 L1889.18 679.20 L1891.71 679.73 L1894.24 680.28 L1896.77 680.86 L1899.30 681.45 L1901.82 682.06 L1904.35 682.70 L1906.88 683.36 L1909.41 684.05 L1911.94 684.76 L1914.46 685.50 L1916.99 686.27 L1919.52 687.06 L1922.05 687.89 L1924.58 688.74 L1927.10 689.62 L1929.63 690.54 L1932.16 691.49 L1934.69 692.47 L1937.21 693.49 L1939.74 694.54 L1942.27 695.63 L1944.80 696.76 L1947.33 697.93 L1949.85 699.14 L1952.38 700.39 L1954.91 701.68 L1957.44 703.02 L1959.97 704.40 L1962.49 705.83 L1965.02 707.30 L1967.55 708.83 L1970.08 710.40 L1972.60 712.02 L1975.13 713.70 L1977.66 715.43 L1980.19 717.21 L1982.72 719.05 L1985.24 720.95 L1987.77 722.91 L1990.30 724.92 L1992.83 727.00 L1995.36 729.13 L1997.88 731.34 L2000.41 733.60 L2002.94 735.93 L2005.47 738.33 L2007.99 740.79 L2010.52 743.32 L2013.05 745.93 L2015.58 748.60 L2018.11 751.35 L2020.63 754.16 L2023.16 757.06 L2025.69 760.02 L2028.22 763.07 L2030.75 766.18 L2033.27 769.38 L2035.80 772.65 L2036.93 774.14"/>
<path d="M483.70 718.75 L524.01 718.80 L564.32 718.85 L604.63 718.90 L644.94 718.95 L685.26 719.00 L725.57 719.06 L765.88 719.11 L806.19 719.16 L846.50 719.21 L886.81 719.26 L927.12 719.31 L967.43 719.36 L1007.74 719.41 L1048.06 719.46 L1088.37 719.52 L1128.68 719.57 L1168.99 719.62 L1209.30 719.67 L1249.61 719.72 L1289.92 719.77 L1330.23 719.82 L1370.54 719.88 L1410.86 719.93 L1451.17 719.99 L1491.48 720.05 L1531.79 720.11 L1541.87 720.13 L1544.39 720.14 L1546.92 720.14 L1549.45 720.15 L1551.98 720.15 L1554.51 720.16 L1557.03 720.17 L1559.56 720.17 L1562.09 720.18 L1564.62 720.18 L1567.15 720.19 L1569.67 720.19 L1572.20 720.20 L1574.73 720.21 L1577.26 720.21 L1579.78 720.22 L1582.31 720.23 L1584.84 720.23 L1587.37 720.24 L1589.90 720.25 L1592.42 720.25 L1594.95 720.26 L1597.48 720.27 L1600.01 720.28 L1602.54 720.28 L1605.06 720.29 L1607.59 720.30 L1610.12 720.31 L1612.65 720.32 L1615.17 720.33 L1617.70 720.34 L1620.23 720.34 L1622.76 720.35 L1625.29 720.36 L1627.81 720.37 L1630.34 720.39 L1632.87 720.40 L1635.40 720.41 L1637.93 720.42 L1640.45 720.43 L1642.98 720.44 L1645.51 720.45 L1648.04 720.47 L1650.57 720.48 L1653.09 720.49 L1655.62 720.51 L1658.15 720.52 L1660.68 720.54 L1663.20 720.55 L1665.73 720.57 L1668.26 720.59 L1670.79 720.60 L1673.32 720.62 L1675.84 720.64 L1678.37 720.66 L1680.90 720.68 L1683.43 720.70 L1685.96 720.72 L1688.48 720.74 L1691.01 720.77 L1693.54 720.79 L1696.07 720.81 L1698.59 720.84 L1701.12 720.86 L1703.65 720.89 L1706.18 720.92 L1708.71 720.95 L1711.23 720.98 L1713.76 721.01 L1716.29 721.04 L1718.82 721.07 L1721.35 721.11 L1723.87 721.15 L1726.40 721.18 L1728.93 721.22 L1731.46 721.26 L1733.98 721.30 L1736.51 721.35 L1739.04 721.39 L1741.57 721.44 L1744.10 721.49 L1746.62 721.54 L1749.15 721.59 L1751.68 721.64 L1754.21 721.70 L1756.74 721.76 L1759.26 721.82 L1761.79 721.88 L1764.32 721.95 L1766.85 722.02 L1769.38 722.09 L1771.90 722.16 L1774.43 722.24 L1776.96 722.32 L1779.49 722.40 L1782.01 722.49 L1784.54 722.58 L1787.07 722.67 L1789.60 722.77 L1792.13 722.87 L1794.65 722.97 L1797.18 723.08 L1799.71 723.20 L1802.24 723.31 L1804.77 723.44 L1807.29 723.56 L1809.82 723.70 L1812.35 723.83 L1814.88 723.98 L1817.40 724.13 L1819.93 724.28 L1822.46 724.44 L1824.99 724.61 L1827.52 724.78 L1830.04 724.96 L1832.57 725.15 L1835.10 725.35 L1837.63 725.55 L1840.16 725.76 L1842.68 725.98 L1845.21 726.21 L1847.74 726.45 L1850.27 726.69 L1852.79 726.95 L1855.32 727.22 L1857.85 727.49 L1860.38 727.78 L1862.91 728.08 L1865.43 728.39 L1867.96 728.72 L1870.49 729.05 L1873.02 729.40 L1875.55 729.77 L1878.07 730.14 L1880.60 730.53 L1883.13 730.94 L1885.66 731.36 L1888.18 731.80 L1890.71 732.26 L1893.24 732.73 L1895.77 733.23 L1898.30 733.74 L1900.82 734.27 L1903.35 734.82 L1905.88 735.39 L1908.41 735.98 L1910.94 736.60 L1913.46 737.24 L1915.99 737.90 L1918.52 738.59 L1921.05 739.30 L1923.58 740.04 L1926.10 740.81 L1928.63 741.60 L1931.16 742.43 L1933.69 743.28 L1936.21 744.17 L1938.74 745.08 L1941.27 746.04 L1943.80 747.02 L1946.33 748.04 L1948.85 749.10 L1951.38 750.19 L1953.91 751.32 L1956.44 752.49 L1958.97 753.70 L1961.49 754.96 L1964.02 756.25 L1966.55 757.59 L1969.08 758.98 L1971.60 760.41 L1974.13 761.89 L1976.66 763.42 L1979.19 765.00 L1981.72 766.62 L1984.24 768.31 L1986.77 770.04 L1989.30 771.83 L1991.83 773.68 L1992.44 774.14"/>
<path d="M1575.73 720.21 L1578.26 720.21 L1580.78 720.22 L1583.31 720.23 L1585.84 720.23 L1588.37 720.24 L1590.90 720.25 L1593.42 720.25 L1595.95 720.26 L1598.48 720.27 L1601.01 720.28 L1603.54 720.28 L1606.06 720.29 L1608.59 720.30 L1611.12 720.31 L1613.65 720.32 L1616.17 720.33 L1618.70 720.34 L1621.23 720.34 L1623.76 720.35 L1626.29 720.36 L1628.81 720.37 L1631.34 720.39 L1633.87 720.40 L1636.40 720.41 L1638.93 720.42 L1641.45 720.43 L1643.98 720.44 L1646.51 720.45 L1649.04 720.47 L1651.57 720.48 L1654.09 720.49 L1656.62 720.51 L1659.15 720.52 L1661.68 720.54 L1664.20 720.55 L1666.73 720.57 L1669.26 720.59 L1671.79 720.60 L1674.32 720.62 L1676.84 720.64 L1679.37 720.66 L1681.90 720.68 L1684.43 720.70 L1686.96 720.72 L1689.48 720.74 L1692.01 720.77 L1694.54 720.79 L1697.07 720.81 L1699.59 720.84 L1702.12 720.86 L1704.65 720.89 L1707.18 720.92 L1709.71 720.95 L1712.23 720.98 L1714.76 721.01 L1717.29 721.04 L1719.82 721.07 L1722.35 721.11 L1724.87 721.15 L1727.40 721.18 L1729.93 721.22 L1732.46 721.26 L1734.98 721.30 L1737.51 721.35 L1740.04 721.39 L1742.57 721.44 L1745.10 721.49 L1747.62 721.54 L1750.15 721.59 L1752.68 721.64 L1755.21 721.70 L1757.74 721.76 L1760.26 721.82 L1762.79 721.88 L1765.32 721.95 L1767.85 722.02 L1770.38 722.09 L1772.90 722.16 L1775.43 722.24 L1777.96 722.32 L1780.49 722.40 L1783.01 722.49 L1785.54 722.58 L1788.07 722.67 L1790.60 722.77 L1793.13 722.87 L1795.65 722.97 L1798.18 723.08 L1800.71 723.20 L1803.24 723.31 L1805.77 723.44 L1808.29 723.56 L1810.82 723.70 L1813.35 723.83 L1815.88 723.98 L1818.40 724.13 L1820.93 724.28 L1823.46 724.44 L1825.99 724.61 L1828.52 724.78 L1831.04 724.96 L1833.57 725.15 L1836.10 725.35 L1838.63 725.55 L1841.16 725.76 L1843.68 725.98 L1846.21 726.21 L1848.74 726.45 L1851.27 726.69 L1853.79 726.95 L1856.32 727.22 L1858.85 727.49 L1861.38 727.78 L1863.91 728.08 L1866.43 728.39 L1868.96 728.72 L1871.49 729.05 L1874.02 729.40 L1876.55 729.77 L1879.07 730.14 L1881.60 730.53 L1884.13 730.94 L1886.66 731.36 L1889.18 731.80 L1891.71 732.26 L1894.24 732.73 L1896.77 733.23 L1899.30 733.74 L1901.82 734.27 L1904.35 734.82 L1906.88 735.39 L1909.41 735.98 L1911.94 736.60 L1914.46 737.24 L1916.99 737.90 L1919.52 738.59 L1922.05 739.30 L1924.58 740.04 L1927.10 740.81 L1929.63 741.60 L1932.16 742.43 L1934.69 743.28 L1937.21 744.17 L1939.74 745.08 L1942.27 746.04 L1944.80 747.02 L1947.33 748.04 L1949.85 749.10 L1952.38 750.19 L1954.91 751.32 L1957.44 752.49 L1959.97 753.70 L1962.49 754.96 L1965.02 756.25 L1967.55 757.59 L1970.08 758.98 L1972.60 760.41 L1975.13 761.89 L1977.66 763.42 L1980.19 765.00 L1982.72 766.62 L1985.24 768.31 L1987.77 770.04 L1990.30 771.83 L1992.83 773.68 L1993.44 774.14"/>
</g>
<text class="k" transform="translate(595.5 329.4) scale(1 1.03)" font-size="60">0.8 kW/m<tspan dx="2.5" dy="-25.534" font-size="48">2</tspan></text>
<text class="k" transform="translate(595.5 441.6) scale(1 1.03)" font-size="60">0.6 kW/m<tspan dx="2.5" dy="-25.534" font-size="48">2</tspan></text>
<text class="k" transform="translate(595.5 553.7) scale(1 1.03)" font-size="60">0.4 kW/m<tspan dx="2.5" dy="-25.534" font-size="48">2</tspan></text>
<text class="k" transform="translate(595.5 666.6) scale(1 1.03)" font-size="60">0.2 kW/m<tspan dx="2.5" dy="-25.534" font-size="48">2</tspan></text>
<text class="k" transform="translate(595.5 721.6) scale(1 1.03)" font-size="60">0.1 kW/m<tspan dx="2.5" dy="-25.534" font-size="48">2</tspan></text>
<text class="t" transform="translate(481.4 853.6) scale(1 1.03)" font-size="57" text-anchor="middle">0</text>
<text class="t" transform="translate(682.956 853.6) scale(1 1.03)" font-size="57" text-anchor="middle">5</text>
<text class="t" transform="translate(884.511 853.6) scale(1 1.03)" font-size="57" text-anchor="middle">10</text>
<text class="t" transform="translate(1086.07 853.6) scale(1 1.03)" font-size="57" text-anchor="middle">15</text>
<text class="t" transform="translate(1287.62 853.6) scale(1 1.03)" font-size="57" text-anchor="middle">20</text>
<text class="t" transform="translate(1489.18 853.6) scale(1 1.03)" font-size="57" text-anchor="middle">25</text>
<text class="t" transform="translate(1690.73 853.6) scale(1 1.03)" font-size="57" text-anchor="middle">30</text>
<text class="t" transform="translate(1892.29 853.6) scale(1 1.03)" font-size="57" text-anchor="middle">35</text>
<text class="t" transform="translate(2093.84 853.6) scale(1 1.03)" font-size="57" text-anchor="middle">40</text>
<text class="t" transform="translate(2295.4 853.6) scale(1 1.03)" font-size="57" text-anchor="middle">45</text>
<text class="t" transform="translate(458.7 796.6) scale(1 1.03)" font-size="57" text-anchor="end">0</text>
<text class="t" transform="translate(458.7 623.6) scale(1 1.03)" font-size="57" text-anchor="end">10</text>
<text class="t" transform="translate(458.7 450.6) scale(1 1.03)" font-size="57" text-anchor="end">20</text>
<text class="t" transform="translate(458.7 277.6) scale(1 1.03)" font-size="57" text-anchor="end">30</text>
<text class="t" transform="translate(458.7 105.6) scale(1 1.03)" font-size="57" text-anchor="end">40</text>
<text class="t" transform="translate(1390.3 934.3) scale(1 1.03)" font-size="63" text-anchor="middle">Voltage (V)</text>
<text class="t" transform="translate(363.4 394.3) rotate(-90) scale(1 1.03)" font-size="63" text-anchor="middle">Current (A)</text>
<text class="s" y="519" font-size="88"><tspan x="13.5" font-size="85.5" textLength="25.5" lengthAdjust="spacingAndGlyphs">(</tspan><tspan x="40.3" font-weight="bold" textLength="41" lengthAdjust="spacingAndGlyphs">a</tspan><tspan x="81.8" font-size="85.5" textLength="25.5" lengthAdjust="spacingAndGlyphs">)</tspan></text>
</svg>
</body></html>
